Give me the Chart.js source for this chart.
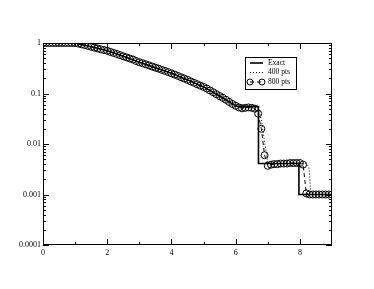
<!DOCTYPE html>
<html>
<head>
<meta charset="utf-8">
<script src="https://cdn.jsdelivr.net/npm/chart.js@4/dist/chart.umd.min.js"></script>
<style>
  body { margin: 0; background: #fff; }
  canvas { display: block; }
</style>
</head>
<body>
<canvas id="shockChart" width="374" height="289"></canvas>
<script>
// exact solution (piecewise)
const exactX = [0, 1, 1.5, 2, 2.5, 3, 3.5, 4, 4.5, 5, 5.5, 6, 6.1, 6.71, 6.71, 7.97, 7.97, 9];
const exactY = [1, 1, 0.843, 0.70, 0.545, 0.417, 0.325, 0.251, 0.186, 0.135, 0.089, 0.057, 0.055, 0.055, 0.0041, 0.0041, 0.001, 0.001];

// 400 pts
const x400 = [0, 1, 1.5, 2, 2.5, 3, 3.5, 4, 4.5, 5, 5.5, 6, 6.1, 6.6, 6.7, 6.8, 6.9, 7.0, 7.1, 8.2, 8.28, 8.34, 8.4, 9];
const y400 = [1, 0.995, 0.843, 0.70, 0.545, 0.417, 0.325, 0.251, 0.186, 0.135, 0.089, 0.057, 0.053, 0.052, 0.05, 0.03, 0.011, 0.0042, 0.0041, 0.0041, 0.0035, 0.0011, 0.001, 0.001];

// 800 pts
const x800 = [
  0, 0.1, 0.2, 0.3, 0.4, 0.5, 0.6, 0.7, 0.8, 0.9, 1.0,
  1.1, 1.2, 1.3, 1.4, 1.5, 1.6, 1.7, 1.8, 1.9, 2.0,
  2.1, 2.2, 2.3, 2.4, 2.5, 2.6, 2.7, 2.8, 2.9, 3.0,
  3.1, 3.2, 3.3, 3.4, 3.5, 3.6, 3.7, 3.8, 3.9, 4.0,
  4.1, 4.2, 4.3, 4.4, 4.5, 4.6, 4.7, 4.8, 4.9, 5.0,
  5.1, 5.2, 5.3, 5.4, 5.5, 5.6, 5.7, 5.8, 5.9, 6.0,
  6.1, 6.2, 6.3, 6.4, 6.5, 6.6, 6.7, 6.8, 6.9, 7.0,
  7.1, 7.2, 7.3, 7.4, 7.5, 7.6, 7.7, 7.8, 7.9, 8.0,
  8.1, 8.2, 8.3, 8.4, 8.5, 8.6, 8.7, 8.8, 8.9, 9.0
];
const y800 = [
  1, 1, 1, 1, 1, 1, 1, 1, 1, 1, 0.998,
  0.973, 0.942, 0.91, 0.877, 0.843, 0.81, 0.78, 0.75, 0.725, 0.70,
  0.665, 0.635, 0.605, 0.575, 0.545, 0.52, 0.495, 0.47, 0.44, 0.417,
  0.398, 0.378, 0.36, 0.342, 0.325, 0.31, 0.294, 0.28, 0.265, 0.251,
  0.237, 0.223, 0.21, 0.198, 0.186, 0.174, 0.163, 0.153, 0.143, 0.135,
  0.125, 0.115, 0.106, 0.097, 0.089, 0.082, 0.075, 0.068, 0.062, 0.057,
  0.053, 0.051, 0.052, 0.053, 0.052, 0.05, 0.04, 0.02, 0.006, 0.0037,
  0.0039, 0.004, 0.004, 0.0041, 0.0041, 0.0041, 0.0042, 0.0042, 0.0042, 0.0042,
  0.0039, 0.00105, 0.001, 0.001, 0.001, 0.001, 0.001, 0.001, 0.001, 0.001
];

const xMajor = [0, 2, 4, 6, 8];
const xMinor = [1, 3, 5, 7];
const yMajor = [0.0001, 0.001, 0.01, 0.1, 1];

const toPts = (xs, ys) => xs.map((x, i) => ({ x: x, y: ys[i] }));
const FONT = '"Liberation Serif", "Times New Roman", serif';

// frame, inward ticks and boxed legend
const frameTicks = {
  id: 'frameTicks',
  afterDraw(chart) {
    const ctx = chart.ctx;
    const a = chart.chartArea;
    const xs = chart.scales.x, ys = chart.scales.y;
    ctx.save();
    ctx.strokeStyle = '#000';
    ctx.lineWidth = 1;
    ctx.strokeRect(a.left + 0.5, a.top + 0.5, a.right - a.left - 1, a.bottom - a.top - 1);
    ctx.beginPath();
    const xt = (v, len) => {
      const p = Math.round(xs.getPixelForValue(v)) + 0.5;
      ctx.moveTo(p, a.bottom); ctx.lineTo(p, a.bottom - len);
      ctx.moveTo(p, a.top); ctx.lineTo(p, a.top + len);
    };
    const yt = (v, len) => {
      const p = Math.round(ys.getPixelForValue(v)) + 0.5;
      ctx.moveTo(a.left, p); ctx.lineTo(a.left + len, p);
      ctx.moveTo(a.right, p); ctx.lineTo(a.right - len, p);
    };
    xMajor.forEach(v => xt(v, 6));
    xMinor.forEach(v => xt(v, 3));
    yMajor.forEach(v => yt(v, 6));
    yMajor.slice(0, -1).forEach(d => {
      for (let k = 2; k <= 9; k++) yt(d * k, 3);
    });
    ctx.stroke();

    // legend
    const bx = 245, by = 57, bw = 51, bh = 32;
    ctx.fillStyle = '#fff';
    ctx.fillRect(bx, by, bw, bh);
    ctx.strokeRect(bx + 0.5, by + 0.5, bw, bh);
    ctx.font = '7.5px ' + FONT;
    ctx.textBaseline = 'middle';
    const rows = [63, 72.5, 82];
    chart.data.datasets.forEach((ds, i) => {
      const y = rows[i];
      ctx.beginPath();
      ctx.strokeStyle = '#000';
      ctx.lineWidth = ds.borderWidth;
      ctx.setLineDash(ds.borderDash || []);
      ctx.moveTo(250, y); ctx.lineTo(263, y);
      ctx.stroke();
      ctx.setLineDash([]);
      if (ds.pointRadius > 0) {
        ctx.lineWidth = 1;
        [250, 262].forEach(cx => {
          ctx.beginPath();
          ctx.arc(cx, y, 3, 0, Math.PI * 2);
          ctx.stroke();
        });
      }
      ctx.fillStyle = '#000';
      ctx.fillText(ds.label, 268, y);
    });
    ctx.restore();
  }
};

new Chart(document.getElementById('shockChart'), {
  type: 'scatter',
  data: {
    datasets: [
      {
        label: 'Exact',
        data: toPts(exactX, exactY),
        showLine: true,
        borderColor: '#000',
        borderWidth: 1.6,
        pointRadius: 0
      },
      {
        label: '400 pts',
        data: toPts(x400, y400),
        showLine: true,
        borderColor: '#000',
        borderWidth: 1,
        borderDash: [1, 2],
        pointRadius: 0
      },
      {
        label: '800 pts',
        data: toPts(x800, y800),
        showLine: true,
        borderColor: '#000',
        borderWidth: 1,
        borderDash: [4, 3],
        pointRadius: 3.5,
        pointBorderWidth: 1,
        pointBorderColor: '#000',
        pointBackgroundColor: 'rgba(255,255,255,0)'
      }
    ]
  },
  options: {
    responsive: false,
    animation: false,
    layout: { padding: { top: 43, right: 42, left: 0, bottom: 0 } },
    plugins: {
      legend: { display: false },
      tooltip: { enabled: false }
    },
    scales: {
      x: {
        type: 'linear',
        min: 0,
        max: 9,
        afterBuildTicks: s => { s.ticks = xMajor.map(v => ({ value: v })); },
        afterFit: s => { s.height = 44; },
        grid: { display: false, drawTicks: false },
        border: { display: false },
        ticks: { color: '#000', font: { family: FONT, size: 8 }, padding: 3, maxRotation: 0 }
      },
      y: {
        type: 'logarithmic',
        min: 0.0001,
        max: 1,
        afterBuildTicks: s => { s.ticks = yMajor.map(v => ({ value: v })); },
        afterFit: s => { s.width = 43; },
        grid: { display: false, drawTicks: false },
        border: { display: false },
        ticks: {
          color: '#000',
          font: { family: FONT, size: 8 },
          padding: 2,
          callback: v => String(v)
        }
      }
    }
  },
  plugins: [frameTicks]
});
</script>
</body>
</html>
